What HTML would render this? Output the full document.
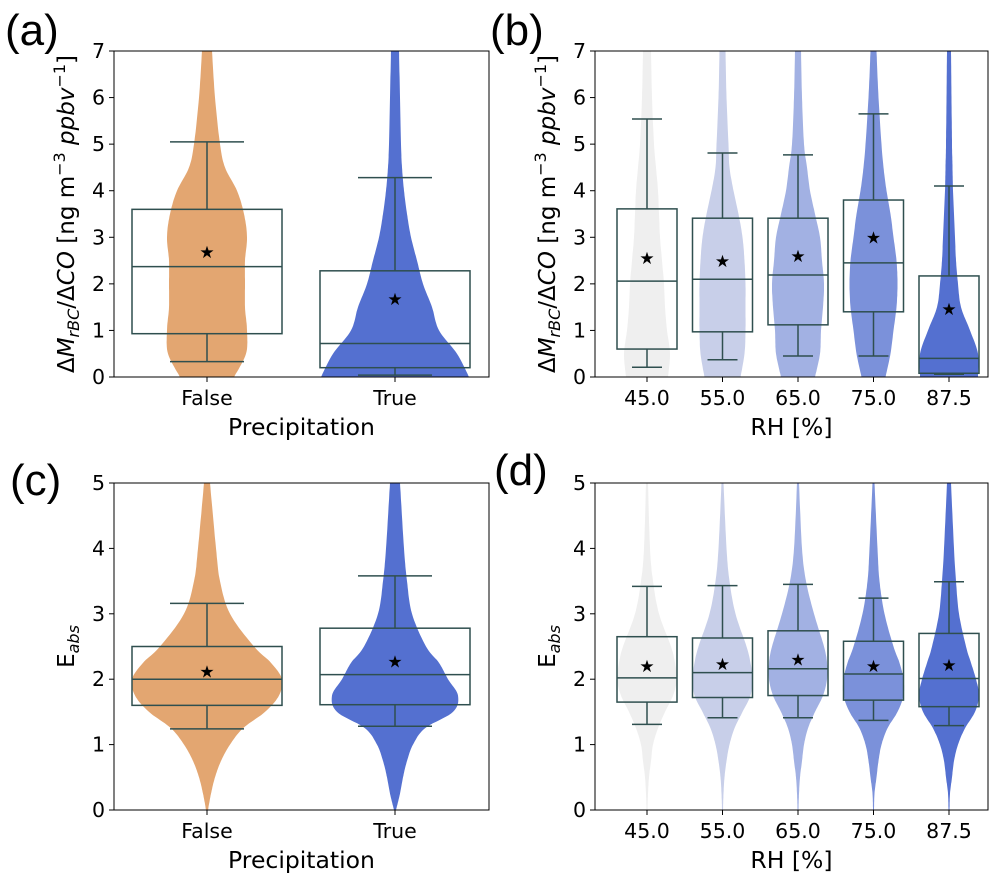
<!DOCTYPE html>
<html><head><meta charset="utf-8">
<style>
body{margin:0;background:#fff;}
svg{display:block;font-family:"DejaVu Sans","Liberation Sans",sans-serif;}
</style></head>
<body>
<svg id="fig" width="997" height="881" viewBox="0 0 997 881" xmlns="http://www.w3.org/2000/svg"></svg>
<script>
// ---------- data ----------
const precipCats = ["False","True"];
const rhCats = ["45.0","55.0","65.0","75.0","87.5"];
const gridA = [0,0.5,1,1.5,2,2.5,3,3.5,4,4.5,5,6,7];
const gridC = [0,0.25,0.5,0.75,1,1.25,1.5,1.75,2,2.25,2.5,3,3.5,4,5];
// box stats: [whiskerLow, q1, median, q3, whiskerHigh, mean]
const statsA = [[0.33,0.93,2.37,3.6,5.05,2.68],[0.04,0.2,0.72,2.28,4.28,1.67]];
const statsB = [[0.21,0.6,2.06,3.61,5.54,2.56],[0.37,0.97,2.1,3.41,4.81,2.49],[0.45,1.12,2.19,3.41,4.77,2.6],[0.45,1.4,2.45,3.8,5.65,3.0],[0.06,0.08,0.4,2.17,4.1,1.46]];
const statsC = [[1.24,1.6,2.0,2.5,3.16,2.12],[1.28,1.61,2.07,2.78,3.58,2.27]];
const statsD = [[1.31,1.65,2.02,2.65,3.42,2.2],[1.41,1.72,2.1,2.63,3.43,2.23],[1.41,1.75,2.16,2.74,3.45,2.3],[1.37,1.68,2.08,2.58,3.24,2.2],[1.29,1.58,2.01,2.7,3.49,2.22]];
// violin densities (relative half-widths) at grid values
const densA = [[27,39,40,38,38,38,40,37,30,18,13,8,5],[74,62,44,37,28,22,16,12,9,7,6,5,4]];
const densB = [[21,23,20,18,17,15,13,12,11,9,7,5,4],[18,22,23,23,23,22,20,16,11,7,6,4,3],[17,22,23,25,26,24,22,17,12,9,6,4,3],[12,17,20,23,24,23,20,17,13,10,8,5,3],[29,29,21,12,9,7,6,5,4,3.5,3,2.5,2]];
const densC = [[1,4,8,14,23,36,58,72,75,64,47,23,13,9,3],[1,5,8,12,18,30,58,63,53,44,31,17,12,9,5]];
const densD = [[0.5,1,2,4,6,11,18,26,30,28,24,12,6,3,1],[0.5,1,2,4,7,12,20,28,30,28,24,13,7,4,1],[0.5,1,2,4,6,10,17,25,29,29,26,16,8,4,1],[0.5,1,3,5,8,14,24,30,30,26,20,11,6,4,1],[0.5,1,3,5,9,16,26,30,27,22,17,10,7,5,2]];
const yTicksA = [0,1,2,3,4,5,6,7];
const yTicksC = [0,1,2,3,4,5];
// ---------- drawing ----------
const NS="http://www.w3.org/2000/svg";
const svg=document.getElementById('fig');
function mk(tag,attrs,parent){const e=document.createElementNS(NS,tag);for(const k in attrs)e.setAttribute(k,attrs[k]);(parent||svg).appendChild(e);return e;}
const BOX="#2f4f4f";
function smoothSide(pts){
  const out=[];
  for(let i=0;i<pts.length-1;i++){
    const p0=pts[Math.max(0,i-1)],p1=pts[i],p2=pts[i+1],p3=pts[Math.min(pts.length-1,i+2)];
    for(let t=0;t<1;t+=0.1){
      const t2=t*t,t3=t2*t;
      const f=(a,b,c,d)=>0.5*((2*b)+(-a+c)*t+(2*a-5*b+4*c-d)*t2+(-a+3*b-3*c+d)*t3);
      out.push([f(p0[0],p1[0],p2[0],p3[0]),f(p0[1],p1[1],p2[1],p3[1])]);
    }
  }
  out.push(pts[pts.length-1]);
  return out;
}
function panel(cfg){
  const g=mk('g',{});
  
  
  const {x0,x1,y0,y1,ymax}=cfg;
  const ys=v=>y1-(v/ymax)*(y1-y0);
  const xs=i=>cfg.c0+cfg.step*i;
  const cid='clip'+cfg.name;
  const cp=mk('clipPath',{id:cid},g);mk('rect',{x:x0,y:y0,width:x1-x0,height:y1-y0},cp);
  const plot=mk('g',{'clip-path':`url(#${cid})`},g);
  cfg.dens.forEach((d,i)=>{
    const cx=xs(i);
    const W=smoothSide(cfg.grid.map((v,k)=>[d[k],ys(v)]));
    const L=W.map(p=>[cx-Math.max(0,p[0]),p[1]]);
    const R=W.map(p=>[cx+Math.max(0,p[0]),p[1]]).reverse();
    const pts=L.concat(R).map(p=>p[0].toFixed(1)+','+p[1].toFixed(1)).join(' ');
    const vp=mk('polygon',{points:pts,fill:cfg.colors[i],stroke:'none'},plot);
    
    
  });
  cfg.stats.forEach((s,i)=>{
    const cx=xs(i),hw=cfg.bw/2,cap=cfg.cap;
    const bg=mk('g',{stroke:BOX,'stroke-width':1.5,fill:'none'},plot);
    
    
    mk('rect',{x:cx-hw,y:ys(s[3]),width:2*hw,height:ys(s[1])-ys(s[3])},bg);
    mk('line',{x1:cx-hw,x2:cx+hw,y1:ys(s[2]),y2:ys(s[2])},bg);
    mk('line',{x1:cx,x2:cx,y1:ys(s[3]),y2:ys(s[4])},bg);
    mk('line',{x1:cx,x2:cx,y1:ys(s[1]),y2:ys(s[0])},bg);
    mk('line',{x1:cx-cap,x2:cx+cap,y1:ys(s[4]),y2:ys(s[4])},bg);
    mk('line',{x1:cx-cap,x2:cx+cap,y1:ys(s[0]),y2:ys(s[0])},bg);
    const st=mk('text',{x:cx,y:ys(s[5])+6,'text-anchor':'middle','font-size':17,fill:'#000'},plot);
    st.textContent='★';
    
    
  });
  mk('rect',{x:x0,y:y0,width:x1-x0,height:y1-y0,fill:'none',stroke:'#000','stroke-width':1},g);
  cfg.yticks.forEach(t=>{
    mk('line',{x1:x0-5,x2:x0,y1:ys(t),y2:ys(t),stroke:'#000'},g);
    const tx=mk('text',{x:x0-9,y:ys(t)+7,'text-anchor':'end','font-size':20.5},g);tx.textContent=t;
    
    
  });
  cfg.cats.forEach((c,i)=>{
    mk('line',{x1:xs(i),x2:xs(i),y1:y1,y2:y1+5,stroke:'#000'},g);
    const tx=mk('text',{x:xs(i),y:y1+28,'text-anchor':'middle','font-size':20.5},g);tx.textContent=c;
    
    
  });
  const xl=mk('text',{x:(x0+x1)/2,y:y1+58,'text-anchor':'middle','font-size':23.5},g);xl.textContent=cfg.xlabel;
  
  
  const yl=mk('text',{transform:`translate(${x0-40},${(y0+y1)/2}) rotate(-90)`,'text-anchor':'middle','font-size':23},g);
  yl.innerHTML=cfg.ylabel;
  
  
  const pl=mk('text',{x:cfg.lx,y:cfg.ly,'font-size':44,'font-family':'Liberation Sans, sans-serif'},g);pl.textContent=cfg.letter;
  
  
}
const ylabBC='Δ<tspan font-style="italic">M</tspan><tspan font-style="italic" font-size="16" dy="5">rBC</tspan><tspan dy="-5">/Δ</tspan><tspan font-style="italic">CO</tspan> [ng m<tspan font-size="16" dy="-9">−3</tspan><tspan dy="9" font-style="italic">  ppbv</tspan><tspan font-size="16" dy="-9">−1</tspan><tspan dy="9">]</tspan>';
const ylabE='E<tspan font-size="16" dy="5" font-style="italic">abs</tspan>';
const orangeBlue=["#e3a671","#5470d0"];
const rhCols=["#efefef","#c8cfe9","#a2b1e3","#7b91da","#5470d0"];
panel({name:'panel-a',x0:114,x1:489,y0:51,y1:377,ymax:7,c0:207,step:188,cats:precipCats,grid:gridA,dens:densA,stats:statsA,colors:orangeBlue,wscale:1,bw:150,cap:37,yticks:yTicksA,xlabel:'Precipitation',ylabel:ylabBC,letter:'(a)',lx:5,ly:45});
panel({name:'panel-b',x0:595,x1:988,y0:51,y1:377,ymax:7,c0:647,step:75.5,cats:rhCats,grid:gridA,dens:densB,stats:statsB,colors:rhCols,wscale:1,bw:60,cap:15,yticks:yTicksA,xlabel:'RH [%]',ylabel:ylabBC,letter:'(b)',lx:490,ly:45});
panel({name:'panel-c',x0:114,x1:489,y0:483,y1:810,ymax:5,c0:207,step:188,cats:precipCats,grid:gridC,dens:densC,stats:statsC,colors:orangeBlue,wscale:1,bw:150,cap:37,yticks:yTicksC,xlabel:'Precipitation',ylabel:ylabE,letter:'(c)',lx:10,ly:495});
panel({name:'panel-d',x0:595,x1:988,y0:483,y1:810,ymax:5,c0:647,step:75.5,cats:rhCats,grid:gridC,dens:densD,stats:statsD,colors:rhCols,wscale:1,bw:60,cap:15,yticks:yTicksC,xlabel:'RH [%]',ylabel:ylabE,letter:'(d)',lx:494,ly:485});
</script>
</body></html>
